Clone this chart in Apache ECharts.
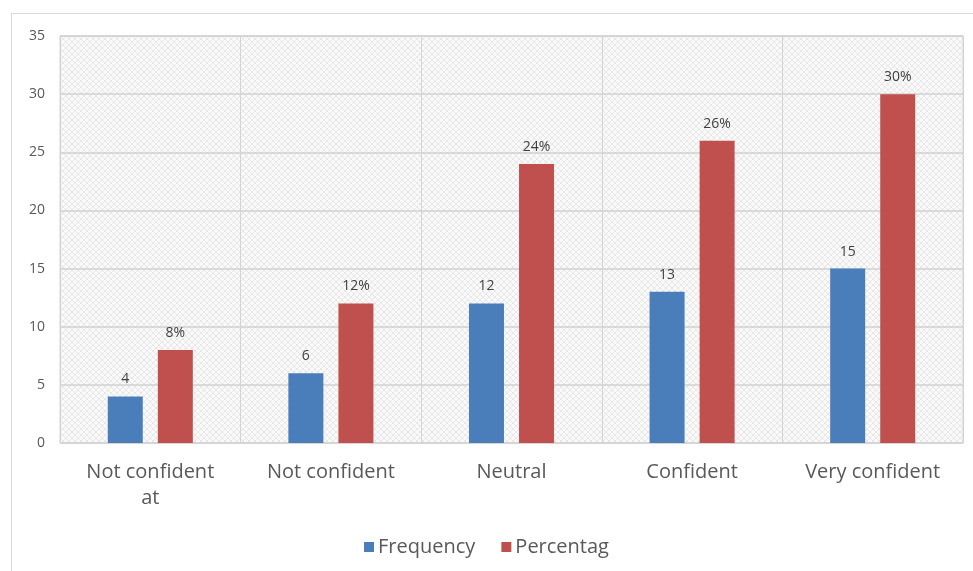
<!DOCTYPE html>
<html>
<head>
<meta charset="utf-8">
<script src="https://cdn.jsdelivr.net/npm/echarts@6/dist/echarts.min.js"></script>
<style>
  html, body { margin: 0; padding: 0; background: #ffffff; }
  #wrap { position: relative; width: 973px; height: 571px; overflow: hidden; }
  #frame { position: absolute; left: 11px; top: 13px; width: 970px; height: 600px;
           border: 1px solid #d9d9d9; box-sizing: border-box; }
  #chart { position: absolute; left: 0; top: 0; width: 973px; height: 571px; }
</style>
</head>
<body>
<div id="wrap">
  <div id="frame"></div>
  <div id="chart"></div>
</div>
<script>
// Confidence levels and responses
const categories = ['Not confident\nat', 'Not confident', 'Neutral', 'Confident', 'Very confident'];
const frequency = [4, 6, 12, 13, 15];
const percentage = [8, 12, 24, 26, 30];
const seriesNames = ['Frequency', 'Percentag'];

// faint cross-hatch texture for the plot background
function hatchPattern() {
  const c = document.createElement('canvas');
  c.width = 6; c.height = 6;
  const g = c.getContext('2d');
  g.fillStyle = '#f9f9f9';
  g.fillRect(0, 0, 6, 6);
  g.strokeStyle = 'rgba(205,205,205,0.4)';
  g.lineWidth = 1;
  g.beginPath();
  g.moveTo(0, 6); g.lineTo(6, 0);
  g.moveTo(0, 0); g.lineTo(6, 6);
  g.stroke();
  return c;
}

const font = '"Open Sans", "Noto Sans", sans-serif';
const chart = echarts.init(document.getElementById('chart'), null, { renderer: 'canvas' });

chart.setOption({
  animation: false,
  textStyle: { fontFamily: font },
  grid: {
    left: 60, right: 10, top: 36, bottom: 128,
    show: true,
    backgroundColor: { image: hatchPattern(), repeat: 'repeat' },
    borderColor: '#d4d4d4',
    borderWidth: 1
  },
  legend: {
    top: 532,
    left: 'center',
    itemWidth: 10,
    itemHeight: 10,
    itemGap: 26,
    icon: 'rect',
    textStyle: { fontSize: 20, color: '#595959', fontFamily: font, padding: [0, 0, 0, -1] },
    data: seriesNames
  },
  xAxis: {
    type: 'category',
    data: categories,
    axisLine: { show: false },
    axisTick: { show: false },
    splitLine: { show: true, lineStyle: { color: '#d4d4d4', width: 1 } },
    axisLabel: {
      fontSize: 20,
      color: '#595959',
      margin: 16,
      lineHeight: 26,
      interval: 0
    }
  },
  yAxis: {
    type: 'value',
    min: 0,
    max: 35,
    interval: 5,
    axisLine: { show: false },
    axisTick: { show: false },
    splitLine: { lineStyle: { color: '#d0d0d0', width: 1.5 } },
    axisLabel: { fontSize: 14, color: '#595959', margin: 15 }
  },
  series: [
    {
      name: seriesNames[0],
      type: 'bar',
      data: frequency,
      barWidth: 35,
      barGap: '43%',
      itemStyle: { color: '#4a7ebb' },
      label: {
        show: true, position: 'top', distance: 10,
        fontSize: 14, color: '#404040'
      }
    },
    {
      name: seriesNames[1],
      type: 'bar',
      data: percentage,
      barWidth: 35,
      itemStyle: { color: '#c0504d' },
      label: {
        show: true, position: 'top', distance: 10,
        fontSize: 14, color: '#404040',
        formatter: p => p.value + '%'
      }
    }
  ]
});
</script>
</body>
</html>
